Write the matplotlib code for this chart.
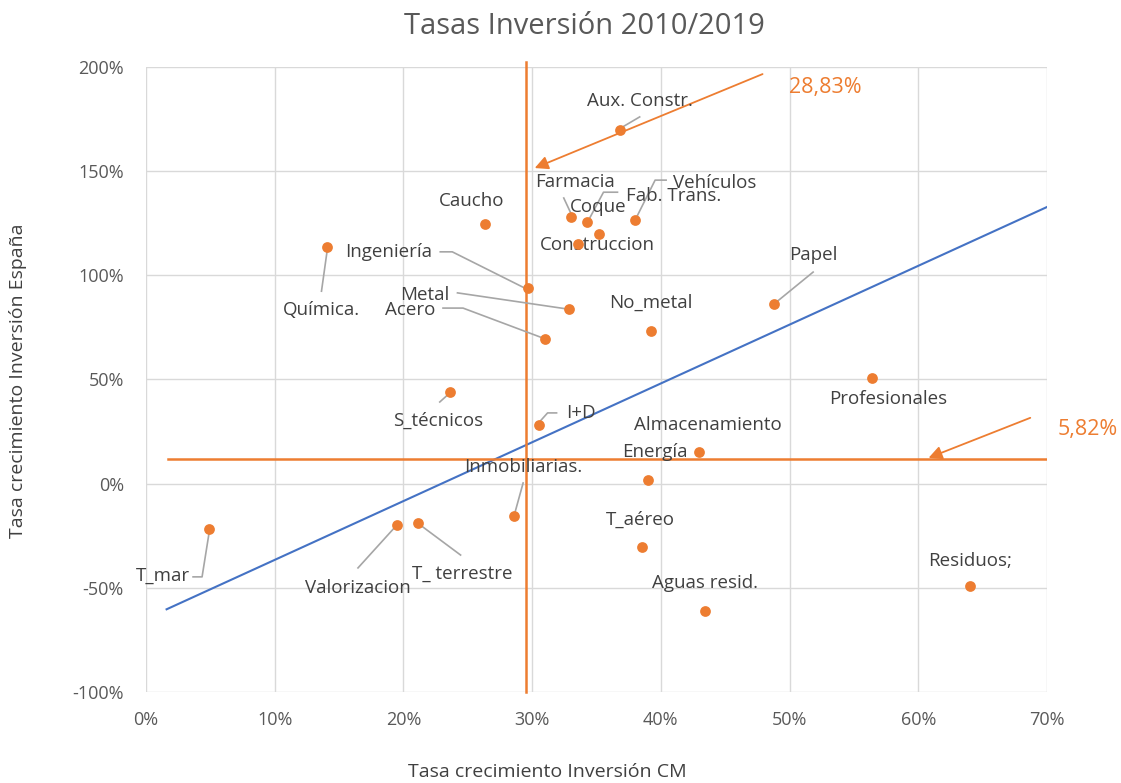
import matplotlib
matplotlib.use('Agg')
import matplotlib.pyplot as plt
from matplotlib import ticker as mticker

plt.rcParams['font.family'] = ['Open Sans', 'DejaVu Sans']

# sectores: tasa crecimiento inversion CM (x, %) y España (y, %)
sectores = ['Aux. Constr.', 'Caucho', 'Farmacia', 'Coque', 'Fab. Trans.', 'Vehículos',
            'Construccion', 'Química.', 'Ingeniería', 'Metal', 'No_metal', 'Acero',
            'Papel', 'Profesionales', 'S_técnicos', 'I+D', 'Almacenamiento', 'Energía',
            'Inmobiliarias.', 'T_aéreo', 'Aguas resid.', 'Residuos;', 'T_mar',
            'Valorizacion', 'T_ terrestre']
tasa_cm = [36.8, 26.3, 33.0, 35.2, 34.3, 38.0,
           33.6, 14.1, 29.7, 32.9, 39.2, 31.0,
           48.8, 56.4, 23.6, 30.5, 43.0, 39.0,
           28.6, 38.5, 43.4, 64.0, 4.9,
           19.5, 21.1]
tasa_esp = [169.8, 124.7, 128.0, 120.0, 125.5, 126.5,
            115.0, 113.5, 94.0, 83.9, 73.3, 69.4,
            86.2, 50.7, 44.0, 28.2, 15.2, 1.8,
            -15.5, -30.4, -61.2, -49.1, -21.7,
            -19.8, -18.9]

media_cm = 29.5
media_esp = 12.0
tendencia_x = [1.6, 70.0]
tendencia_y = [-60.3, 132.8]

# posicion de etiquetas (pixeles respecto al punto) y lineas guia
label_off = {
    'Aux. Constr.': (20, 29), 'Caucho': (-13, 23), 'Farmacia': (4, 35), 'Coque': (-1, 27),
    'Fab. Trans.': (86, 26), 'Vehículos': (80, 37), 'Construccion': (19, -1),
    'Química.': (-6, -63), 'Ingeniería': (-140, 36), 'Metal': (-145, 14), 'No_metal': (0, 28),
    'Acero': (-135, 29), 'Papel': (39, 49), 'Profesionales': (16, -21), 'S_técnicos': (-12, -29),
    'I+D': (42, 12), 'Almacenamiento': (8, 27), 'Energía': (7, 28), 'Inmobiliarias.': (9, 49),
    'T_aéreo': (-1, 27), 'Aguas resid.': (0, 28), 'Residuos;': (0, 25), 'T_mar': (-46, -47),
    'Valorizacion': (-39, -63), 'T_ terrestre': (45, -51),
}
leaders = {
    'Aux. Constr.': [(3, 3), (20, 13)],
    'Farmacia': [(0, 4), (-7, 19)],
    'Fab. Trans.': [(0, 0), (16, 30), (30, 30)],
    'Vehículos': [(0, 0), (20, 40), (31, 40)],
    'Química.': [(0, -1), (-6, -44)],
    'Ingeniería': [(-2, -1), (-76, 36), (-88, 36)],
    'Metal': [(-3, 0), (-112, 16)],
    'Acero': [(-2, 1), (-82, 31), (-102, 31)],
    'Papel': [(1, 1), (39, 32)],
    'S_técnicos': [(0, -1), (-10, -10)],
    'I+D': [(0, 2), (9, 12), (18, 12)],
    'Inmobiliarias.': [(1, 4), (9, 33)],
    'T_mar': [(0, -4), (-7, -48), (-16, -48)],
    'Valorizacion': [(0, 0), (-39, -43)],
    'T_ terrestre': [(0, 0), (43, -32)],
}

naranja = '#ED7D31'
azul = '#4472C4'
gris_txt = '#404040'
gris_eje = '#595959'

fig = plt.figure(figsize=(11.21, 7.83), dpi=100)
ax = fig.add_axes([146 / 1121, 1 - 692 / 783, (1047 - 146) / 1121, (692 - 67) / 783])
ax.set_xlim(0, 70)
ax.set_ylim(-100, 200)
ax.set_xticks(range(0, 71, 10))
ax.set_yticks(range(-100, 201, 50))
ax.xaxis.set_major_formatter(mticker.FuncFormatter(lambda v, p: '%d%%' % v))
ax.yaxis.set_major_formatter(mticker.FuncFormatter(lambda v, p: '%d%%' % v))
ax.grid(True, color='#d9d9d9', lw=1)
ax.set_axisbelow(True)
for s in ax.spines.values():
    s.set_visible(False)
ax.tick_params(length=0, labelsize=13, colors=gris_eje)
ax.tick_params(axis='x', pad=14)
ax.tick_params(axis='y', pad=16)

# escala pixel -> datos
sx = 70.0 / (1047 - 146)
sy = 300.0 / (692 - 67)

ax.plot(tendencia_x, tendencia_y, color=azul, lw=1.5, zorder=2)
ax.plot([media_cm, media_cm], [-100, 202.5], color=naranja, lw=1.8, zorder=2, clip_on=False)
ax.plot([1.7, 70], [media_esp, media_esp], color=naranja, lw=1.8, zorder=2)

for name, xv, yv in zip(sectores, tasa_cm, tasa_esp):
    if name in leaders:
        pts = leaders[name]
        ax.plot([xv + dx * sx for dx, dy in pts], [yv + dy * sy for dx, dy in pts],
                color='#a6a6a6', lw=1.2, zorder=3)
    dx, dy = label_off[name]
    ax.text(xv + dx * sx, yv + dy * sy, name, ha='center', va='center',
            fontsize=13.5, color=gris_txt, zorder=4)

ax.scatter(tasa_cm, tasa_esp, s=60, color=naranja, zorder=5, linewidths=0)

ax.annotate('', xy=(30.2, 151.5), xytext=(47.9, 196.6),
            arrowprops=dict(arrowstyle='-|>', color=naranja, lw=1.3, mutation_scale=20,
                            shrinkA=0, shrinkB=0), annotation_clip=False)
ax.text(52.8, 190, '28,83%', color=naranja, fontsize=15.5, ha='center', va='center')
ax.annotate('', xy=(60.8, 12.4), xytext=(68.7, 31.6),
            arrowprops=dict(arrowstyle='-|>', color=naranja, lw=1.3, mutation_scale=20,
                            shrinkA=0, shrinkB=0), annotation_clip=False)
ax.text(73.2, 25.8, '5,82%', color=naranja, fontsize=15.5, ha='center', va='center',
        clip_on=False)

fig.text(584 / 1121, 1 - 27 / 783, 'Tasas Inversión 2010/2019', ha='center', va='center',
         fontsize=21, color=gris_eje)
fig.text(547 / 1121, 1 - 772 / 783, 'Tasa crecimiento Inversión CM', ha='center',
         va='center', fontsize=14, color=gris_txt)
fig.text(18 / 1121, 1 - 381 / 783, 'Tasa crecimiento Inversión España', ha='center',
         va='center', fontsize=14, color=gris_txt, rotation=90)

fig.savefig('out.png', dpi=100, facecolor='white')
